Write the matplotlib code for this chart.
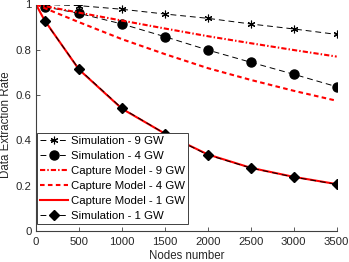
import numpy as np
import matplotlib
matplotlib.use('Agg')
import matplotlib.pyplot as plt

plt.rcParams['font.family'] = ['Liberation Sans', 'DejaVu Sans']

# simulation points
sim_x = [100, 500, 1000, 1500, 2000, 2500, 3000, 3500]
sim_9gw = [1.0, 0.995, 0.979, 0.958, 0.939, 0.914, 0.892, 0.868]
sim_4gw = [0.99, 0.961, 0.914, 0.858, 0.799, 0.745, 0.692, 0.637]
sim_1gw = [0.928, 0.715, 0.542, 0.43, 0.336, 0.278, 0.238, 0.206]

# capture model curves
mod_x = [0, 100, 500, 1000, 1500, 2000, 2500, 3000, 3500]
mod_9gw = [1.0, 0.993, 0.964, 0.929, 0.894, 0.860, 0.829, 0.799, 0.770]
mod_4gw = [1.0, 0.984, 0.922, 0.847, 0.781, 0.719, 0.667, 0.619, 0.575]
mod_1gw = [1.0, 0.93, 0.713, 0.54, 0.43, 0.338, 0.279, 0.239, 0.207]

fig = plt.figure(figsize=(3.49, 2.62), dpi=100)
ax = fig.add_axes([36 / 349, 31 / 262, 300.7 / 349, 226.5 / 262])

ax.plot(sim_x, sim_9gw, '--', color='k', lw=0.7, dashes=(6, 4), marker=(6, 2, 0),
        ms=5.5, mew=0.8, label='Simulation - 9 GW')
ax.plot(sim_x, sim_4gw, '--', color='k', lw=0.7, dashes=(6, 4), marker='o', ms=6.5,
        label='Simulation - 4 GW')
ax.plot(mod_x, mod_9gw, '-.', color='red', lw=1.5, dashes=(2.5, 1, 0.7, 1),
        label='Capture Model - 9 GW')
ax.plot(mod_x, mod_4gw, '--', color='red', lw=1.5, dashes=(2.2, 1.6),
        label='Capture Model - 4 GW')
ax.plot(mod_x, mod_1gw, '-', color='red', lw=1.5, label='Capture Model - 1 GW')
ax.plot(sim_x, sim_1gw, '--', color='k', lw=0.7, dashes=(6, 4), marker='D', ms=5.5,
        label='Simulation - 1 GW')

ax.set_xlim(0, 3500)
ax.set_ylim(0, 1)
ax.set_xticks(np.arange(0, 3501, 500))
ax.set_yticks([0, 0.2, 0.4, 0.6, 0.8, 1])
ax.set_yticklabels(['0', '0.2', '0.4', '0.6', '0.8', '1'])
for s in ['top', 'right']:
    ax.spines[s].set_visible(False)
for s in ['left', 'bottom']:
    ax.spines[s].set_color('#404040')
    ax.spines[s].set_linewidth(0.8)
ax.tick_params(direction='in', length=3, width=0.6, colors='#404040',
               labelsize=8.2, labelcolor='#262626')
ax.tick_params(axis='y', pad=3)
ax.tick_params(axis='x', pad=4)
ax.set_xlabel('Nodes number', fontsize=8.3, color='#262626')
ax.set_ylabel('Data Extraction Rate', fontsize=8.3, color='#262626')
ax.xaxis.set_label_coords(0.5, -19 / 226.5)
ax.yaxis.set_label_coords(-24 / 300.7, 0.47)

leg = ax.legend(loc='lower left', bbox_to_anchor=(1 / 300.7, 7 / 226.5),
                fontsize=8.2, handlelength=2.5, handletextpad=0.25,
                borderpad=0.25, labelspacing=0.45, fancybox=False,
                borderaxespad=0, framealpha=1)
leg.get_frame().set_edgecolor('#404040')
leg.get_frame().set_linewidth(0.7)

fig.savefig('out.png', dpi=100)
